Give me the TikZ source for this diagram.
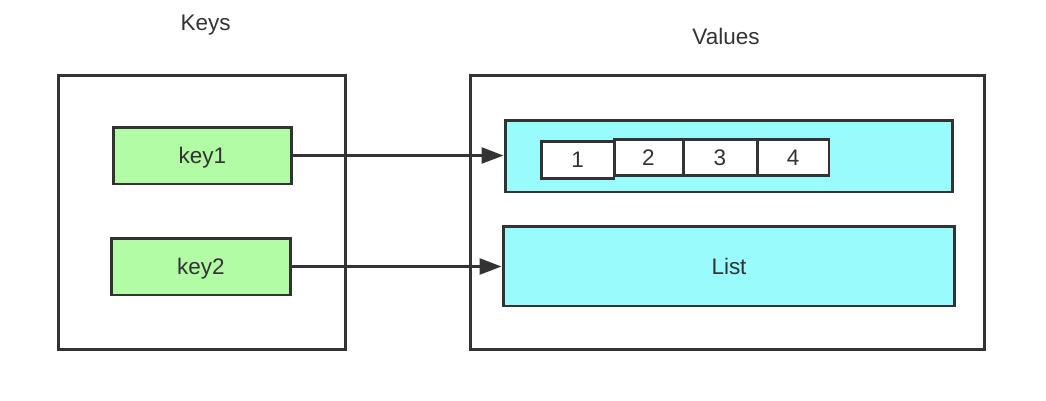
\documentclass[tikz,border=0pt]{standalone}
\usepackage{fontspec}
\setmainfont{Liberation Sans}
\usepackage{xcolor}
\usetikzlibrary{arrows.meta}
\definecolor{linegray}{RGB}{51,51,51}
\definecolor{keygreen}{RGB}{179,252,166}
\definecolor{valcyan}{RGB}{153,251,252}
\tikzset{
	bigbox/.style={rectangle, draw=linegray, line width=1.7pt, fill=white},
	keynode/.style={rectangle, draw=linegray, fill=keygreen, line width=1.7pt, minimum height=1.14cm, text depth=0pt},
	valnode/.style={rectangle, draw=linegray, fill=valcyan, line width=1.7pt, text depth=0pt},
	cellnode/.style={rectangle, draw=linegray, fill=white, line width=1.7pt, minimum height=0.73cm},
	myarrow/.style = {-{Triangle[length=12.5pt, width=9pt]}, draw=linegray, fill=linegray, line width=1.7pt}
}

\begin{document}
\begin{tikzpicture}[x=0.02cm, y=-0.02cm, font=\fontsize{12.8pt}{15pt}\selectfont, text=linegray]
		\useasboundingbox (0,0) rectangle (1046,400);
		
		\node[bigbox, minimum width=5.76cm, minimum height=5.5cm] at (202,212.5) (K)     {};
		\node[bigbox, minimum width=10.3cm, minimum height=5.5cm] at (727.5,212.5) (V)     {};
		\node at (205.5,25) (Tk)     {Keys};
		\node at (726,36) (Tv)     {Values};
		
		\node[keynode, minimum width=3.58cm] at (202.5,155.5) (key1)    {key1};
		\node[keynode, minimum width=3.6cm] at (201,266.5) (key2)    {key2};
		
		\node[valnode, minimum width=8.96cm, minimum height=1.44cm] at (729,156) (v1)    {};
		\node[valnode, minimum width=9.04cm, minimum height=1.6cm] at (729,266) (v2)    {List};
		
		\node[cellnode, minimum width=1.46cm] at (577.5,160) (c1)    {1};
		\node[cellnode, minimum width=1.38cm] at (648.5,157.5) (c2)    {2};
		\node[cellnode, minimum width=1.48cm] at (720,157.5) (c3)    {3};
		\node[cellnode, minimum width=1.44cm] at (793,157.5) (c4)    {4};
		
		%Lines
		
		\draw[myarrow] (key1.east) -- (v1.west |- key1.east);
		\draw[myarrow] (key2.east) -- (v2.west |- key2.east);
		
	\end{tikzpicture}
\end{document}
